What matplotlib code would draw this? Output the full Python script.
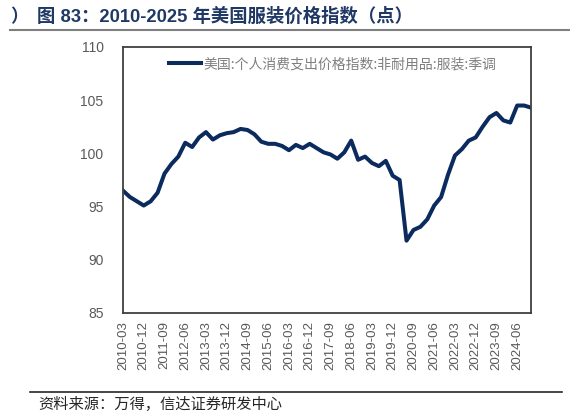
import matplotlib
matplotlib.use("Agg")
import matplotlib.pyplot as plt
from matplotlib.lines import Line2D

plt.rcParams['font.family'] = ['Liberation Sans', 'Noto Sans CJK SC', 'DejaVu Sans']

# quarterly, 2010-03 .. 2024-12
quarters = [f"{y}-{m:02d}" for y in range(2010, 2025) for m in (3, 6, 9, 12)]
apparel_pce = [
    96.5, 95.9, 95.5, 95.1, 95.5, 96.3, 98.1, 99.0, 99.7, 101.0,
    100.6, 101.5, 102.0, 101.3, 101.7, 101.9, 102.0, 102.3, 102.2, 101.8,
    101.1, 100.9, 100.9, 100.7, 100.3, 100.8, 100.5, 100.9, 100.5, 100.1,
    99.9, 99.5, 100.1, 101.2, 99.4, 99.7, 99.1, 98.8, 99.3, 97.9,
    97.5, 91.8, 92.8, 93.1, 93.8, 95.1, 95.9, 98.0, 99.8, 100.4,
    101.2, 101.5, 102.5, 103.4, 103.8, 103.1, 102.9, 104.5, 104.5, 104.3,
]
yticks = [85, 90, 95, 100, 105, 110]
legend_label = "美国:个人消费支出价格指数:非耐用品:服装:季调"
title = "图 83：2010-2025 年美国服装价格指数（点）"
source = "资料来源：万得，信达证券研发中心"

W, H = 570, 415
fig = plt.figure(figsize=(W / 100, H / 100), dpi=100)
ax = fig.add_axes([123 / W, 1 - 313 / H, 408 / W, 266 / H])

x = list(range(len(apparel_pce)))
ax.plot(x, apparel_pce, color="#0b2a5e", lw=2.9, solid_joinstyle="round",
        label=legend_label)

ax.set_xlim(0, len(apparel_pce) - 1)
ax.set_ylim(85, 110)
ax.set_yticks(yticks)
ax.set_yticklabels([str(v) for v in yticks], fontsize=10, color="#595959")
ax.set_xticks(x[::3])
ax.set_xticklabels(quarters[::3], rotation=90, fontsize=9.5, color="#595959")
ax.tick_params(axis="both", length=0)
ax.tick_params(axis="y", pad=14)
ax.tick_params(axis="x", pad=6)
for s in ax.spines.values():
    s.set_color("#404040")
    s.set_linewidth(1.3)

leg = ax.legend(loc="center left", bbox_to_anchor=(0.113, 0.936), frameon=False,
                handlelength=2.3, handletextpad=0.2, borderpad=0, borderaxespad=0,
                prop={"family": ["Noto Sans CJK SC"], "size": 10})
for t in leg.get_texts():
    t.set_color("#7f7f7f")

# header and footer
fig.text(10 / W, 1 - 17 / H, "）", fontsize=13, fontweight="bold", color="#1f3864",
         va="center", ha="left", family=["Noto Sans CJK SC"])
fig.text(37 / W, 1 - 17 / H, title, fontsize=13.2, fontweight="bold", color="#1f3864",
         va="center", ha="left", family=["Liberation Sans", "Noto Sans CJK SC"])
fig.add_artist(Line2D([10 / W, 1.0], [1 - 30 / H] * 2, color="#7f7f7f", lw=1.5))
fig.add_artist(Line2D([30 / W, 562 / W], [1 - 392 / H] * 2, color="#262626", lw=1.2))
fig.text(38 / W, 1 - 404 / H, source, fontsize=11, color="#262626",
         va="center", ha="left", style="italic", family=["Noto Sans CJK SC"])

fig.savefig("out.png", dpi=100)
